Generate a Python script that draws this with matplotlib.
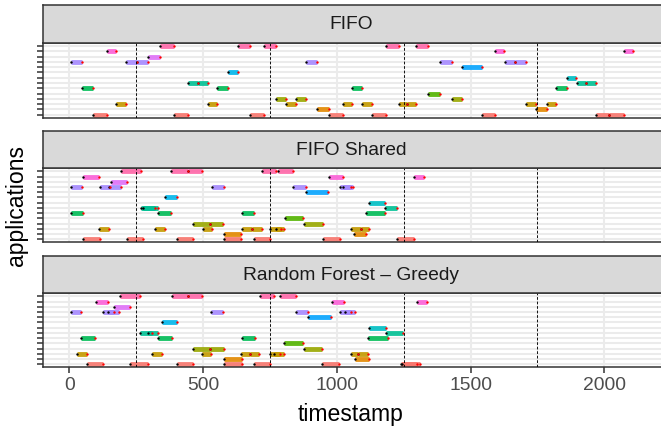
import numpy as np
import matplotlib
matplotlib.use("Agg")
import matplotlib.pyplot as plt

plt.rcParams['font.family'] = ['Liberation Sans', 'DejaVu Sans']

# one list of bars per panel: application row, start, end
panel_titles = ["FIFO", "FIFO Shared", "Random Forest \u2013 Greedy"]
n_apps = 14
markers = [250, 750, 1250, 1750]
x_ticks = [0, 500, 1000, 1500, 2000]

fifo_app = [14, 14, 14, 14, 14, 13, 13, 13, 12, 11, 11, 11, 11, 11, 11, 11, 10, 9, 8,
            7, 7, 7, 7, 6, 6, 6, 6, 5, 4, 4, 4,
            3, 3, 3, 3, 3, 3, 3, 3, 3, 2, 2, 1, 1, 1, 1, 1, 1, 1, 1]
fifo_start = [339, 631, 729, 1183, 1297, 141, 1592, 2072, 293, 5, 211, 252, 886, 1385, 1629, 1667, 1467, 592, 1862,
              443, 482, 1897, 1933, 47, 552, 1056, 1821, 1342, 772, 848, 1429,
              176, 519, 811, 1022, 1096, 1233, 1264, 1709, 1785, 927, 1744, 89, 392, 677, 972, 1132, 1541, 1969, 2019]
fifo_end = [391, 677, 773, 1233, 1342, 176, 1626, 2107, 339, 47, 252, 293, 927, 1429, 1667, 1709, 1541, 631, 1894,
            482, 518, 1933, 1969, 89, 592, 1096, 1861, 1387, 811, 886, 1467,
            211, 552, 848, 1056, 1131, 1264, 1297, 1744, 1821, 972, 1785, 141, 443, 729, 1023, 1184, 1592, 2019, 2073]

shared_app = [14, 14, 14, 14, 14, 13, 13, 13, 12, 11, 11, 11, 11, 11, 11, 11, 10, 9, 8,
              7, 7, 7, 6, 6, 6, 6, 5, 4, 4, 4,
              3, 3, 3, 3, 3, 3, 3, 3, 3, 2, 2, 1, 1, 1, 1, 1, 1, 1]
shared_start = [195, 381, 443, 720, 780, 52, 970, 1290, 156, 5, 116, 149, 535, 838, 1013, 1024, 884, 359, 1121,
                268, 277, 1179, 5, 330, 646, 1111, 806, 461, 526, 878,
                113, 322, 499, 644, 682, 750, 773, 1054, 1089, 579, 1063, 50, 214, 402, 579, 692, 949, 1225]
shared_end = [267, 443, 498, 773, 837, 113, 1024, 1325, 214, 48, 153, 192, 579, 884, 1053, 1060, 968, 401, 1181,
              320, 330, 1225, 50, 381, 692, 1181, 875, 526, 576, 947,
              149, 358, 534, 682, 719, 790, 804, 1089, 1121, 643, 1111, 116, 277, 462, 643, 750, 1013, 1289]

rf_app = [14, 14, 14, 14, 14, 13, 13, 13, 12, 11, 11, 11, 11, 11, 11, 11, 10, 9, 8,
          7, 7, 7, 6, 6, 6, 6, 5, 4, 4, 4,
          3, 3, 3, 3, 3, 3, 3, 3, 3, 2, 2, 1, 1, 1, 1, 1, 1, 1, 1]
rf_start = [190, 384, 442, 713, 787, 99, 981, 1300, 166, 5, 127, 145, 530, 849, 1012, 1030, 894, 348, 1119,
            263, 293, 1184, 45, 330, 646, 1116, 801, 461, 526, 877,
            30, 310, 498, 642, 677, 749, 766, 1053, 1081, 577, 1069, 65, 227, 402, 577, 692, 945, 1240, 1245]
rf_end = [263, 442, 498, 767, 848, 145, 1028, 1338, 227, 45, 166, 186, 574, 891, 1053, 1069, 978, 401, 1184,
          310, 330, 1249, 97, 384, 694, 1190, 875, 526, 577, 945,
          65, 348, 529, 677, 711, 786, 801, 1081, 1117, 644, 1119, 127, 293, 461, 644, 749, 1009, 1301, 1311]

panels = [(fifo_app, fifo_start, fifo_end),
          (shared_app, shared_start, shared_end),
          (rf_app, rf_start, rf_end)]

# ggplot hue palette for 14 levels
colors = ["#F8766D", "#E38900", "#C49A00", "#99A800", "#53B400", "#00BC56", "#00C094",
          "#00BFC4", "#00B6EB", "#06A4FF", "#A58AFF", "#DF70F8", "#FB61D7", "#FF66A8"]

W, H = 661, 431
fig = plt.figure(figsize=(W / 100, H / 100), dpi=100)

left, right = 42.5, 662
# (strip top, panel top, panel bottom) in pixels
boxes = [(6, 44, 118.7), (131.7, 169.3, 243.3), (256.7, 294.3, 368.3)]

for k, (apps, starts, ends) in enumerate(panels):
    s_top, p_top, p_bot = boxes[k]
    ax = fig.add_axes([left / W, 1 - p_bot / H, (right - left) / W, (p_bot - p_top) / H])
    st = fig.add_axes([left / W, 1 - p_top / H, (right - left) / W, (p_top - s_top) / H])

    st.set_facecolor("#D9D9D9")
    st.set_xticks([])
    st.set_yticks([])
    for sp in st.spines.values():
        sp.set_color("#333333")
        sp.set_linewidth(1.1)
    st.text((351 - left) / (right - left), 0.5, panel_titles[k], ha="center", va="center",
            fontsize=13.8, color="#1A1A1A", transform=st.transAxes)

    ax.set_xlim(-100, 2210 + (right - 660.5) / 0.2677)
    ax.set_ylim(0.4, n_apps + 0.6)
    for g in x_ticks:
        ax.axvline(g, color="#EBEBEB", lw=1.5, zorder=0)
    for g in markers:
        ax.axvline(g, color="#EBEBEB", lw=0.8, zorder=0)
    for r in range(1, n_apps + 1):
        ax.axhline(r, color="#EBEBEB", lw=1.5, zorder=0)

    a = np.array(apps)
    s = np.array(starts)
    e = np.array(ends)
    ax.hlines(a, s, e, colors=[colors[i - 1] for i in a], lw=3.5, alpha=0.9, zorder=2)
    ax.scatter(s, a, s=3, color="black", zorder=3, linewidths=0)
    ax.scatter(e, a, s=3, color="red", zorder=3, linewidths=0)

    for m in markers:
        ax.axvline(m, color="black", lw=0.65, ls=(0, (3, 2)), zorder=4)

    ax.set_yticks(range(1, n_apps + 1))
    ax.set_yticklabels([""] * n_apps)
    ax.tick_params(axis="y", length=4, width=1.1, color="#333333")
    if k == 2:
        ax.set_xticks(x_ticks)
        ax.tick_params(axis="x", length=4, width=1.1, color="#333333",
                       labelsize=13.9, labelcolor="#4D4D4D", pad=2.5)
    else:
        ax.set_xticks([])
    for sp in ax.spines.values():
        sp.set_color("#333333")
        sp.set_linewidth(1.1)

fig.text(351 / W, 1 - 421 / H, "timestamp", ha="center", va="baseline", fontsize=16.6)
fig.text(17 / W, 1 - 206 / H, "applications", ha="center", va="center",
         rotation=90, fontsize=16.6)

fig.savefig("out.png", dpi=100)
